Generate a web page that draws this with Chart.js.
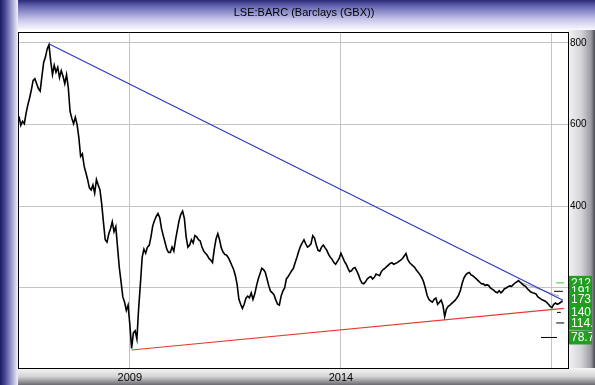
<!DOCTYPE html>
<html>
<head>
<meta charset="utf-8">
<script src="https://cdn.jsdelivr.net/npm/chart.js@4/dist/chart.umd.min.js"></script>
<style>
  html, body { margin: 0; padding: 0; background: #fff; overflow: hidden; }
  canvas { display: block; }
</style>
</head>
<body>
<canvas id="barc-grafica" width="595" height="385"></canvas>
<script>
// Barclays closing price (GBX), two readings per month
const p2006 = [620, 598, 608, 602, 628, 648, 665, 685, 708, 712, 700, 688, 682, 718, 752];
const p2007 = [765, 785, 795, 755, 722, 745, 728, 740, 715, 732, 718, 700, 722, 690, 632, 615, 602, 618, 600, 568, 522, 528, 498, 482];
const p2008 = [465, 445, 440, 452, 432, 465, 452, 440, 405, 360, 318, 312, 332, 345, 362, 338, 350, 300, 250, 215, 178, 165, 145, 158];
const p2009 = [110, 52, 90, 95, 75, 150, 210, 275, 295, 285, 300, 304, 325, 352, 365, 375, 382, 372, 345, 328, 312, 295, 287, 287];
const p2010 = [300, 290, 318, 342, 365, 380, 388, 370, 325, 300, 305, 318, 310, 328, 325, 318, 315, 300, 290, 285, 280, 272, 268, 262];
const p2011 = [295, 320, 333, 318, 298, 288, 282, 280, 274, 265, 255, 245, 230, 208, 172, 160, 150, 160, 175, 180, 176, 188, 172, 185];
const p2012 = [205, 222, 235, 248, 245, 238, 222, 205, 192, 188, 183, 170, 160, 158, 180, 192, 200, 222, 228, 235, 242, 248, 262, 275];
const p2013 = [290, 302, 310, 318, 308, 300, 303, 308, 328, 322, 305, 292, 290, 300, 305, 298, 292, 282, 275, 270, 262, 258, 265, 272];
const p2014 = [285, 275, 265, 258, 248, 240, 242, 248, 250, 242, 232, 220, 212, 210, 215, 222, 226, 228, 222, 226, 234, 232, 230, 240];
const p2015 = [245, 248, 252, 256, 260, 262, 258, 260, 262, 265, 268, 272, 278, 284, 270, 262, 258, 254, 250, 243, 238, 232, 225, 215];
const p2016 = [200, 182, 172, 168, 165, 172, 175, 160, 165, 170, 158, 130, 148, 155, 158, 162, 166, 170, 176, 183, 195, 212, 225, 232];
const p2017 = [236, 238, 232, 230, 226, 222, 218, 214, 210, 210, 206, 208, 206, 200, 197, 194, 190, 188, 193, 188, 192, 198, 200, 203];
const p2018 = [205, 204, 208, 212, 215, 218, 214, 210, 206, 204, 198, 194, 190, 188, 187, 185, 178, 175, 172, 170, 168, 165, 160, 155];
const p2019 = [152, 160, 163, 160, 162, 165, 168];

// trend lines (decimal year, price)
const resistanceDates = [2007.09, 2019.26];
const resistanceValues = [797, 170];
const supportDates = [2009.04, 2019.28];
const supportValues = [48, 150];
const channelDates = [2018.18, 2019.17];
const channelValues = [216, 180];

// target levels on the right
const targetLabels = ['212.4', '191.7', '173', '140.1', '114.3', '78.74'];
const targetValues = [212.4, 191.7, 173, 140.1, 114.3, 78.74];
const markLevels = [212.4, 191.7, 140.1, 114.3, 78.74];
const markStarts = [2019.10, 2019.05, 2019.12, 2019.10, 2018.74];
const markEnds = [2019.29, 2019.26, 2019.21, 2019.29, 2019.12];

const yearTicks = [2009, 2014, 2019];
const yearLabels = ['2009', '2014'];
const priceTicks = [200, 400, 600, 800];

(function() {
  const years = [
    [2006, p2006], [2007, p2007], [2008, p2008], [2009, p2009], [2010, p2010],
    [2011, p2011], [2012, p2012], [2013, p2013], [2014, p2014], [2015, p2015],
    [2016, p2016], [2017, p2017], [2018, p2018], [2019, p2019]
  ];
  const precio = [];
  years.forEach(([year, vals]) => {
    // 2006 series only covers the tail of the year
    const offset = year === 2006 ? 24 - vals.length : 0;
    vals.forEach((v, i) => precio.push({ x: year + (offset + i) / 24, y: v }));
  });

  const pair = (xs, ys) => xs.map((x, i) => ({ x: x, y: ys[i] }));

  const marks = markLevels.map((lvl, i) => ({
    data: [{ x: markStarts[i], y: lvl }, { x: markEnds[i], y: lvl }],
    borderColor: i === 0 ? '#33cc33' : '#000000',
    borderWidth: 1,
    pointRadius: 0
  }));

  const marco = {
    id: 'marco',
    beforeDraw(chart) {
      const c = chart.ctx;
      const W = chart.width, H = chart.height;
      c.save();
      c.fillStyle = '#ffffff';
      c.fillRect(0, 0, W, H);

      let g = c.createLinearGradient(568, 0, W, 0);
      g.addColorStop(0, '#f4f4f6');
      g.addColorStop(0.5, '#d2d2d8');
      g.addColorStop(0.85, '#9a9aa2');
      g.addColorStop(1, '#4a4a52');
      c.fillStyle = g;
      c.fillRect(568, 0, W - 568, H);

      g = c.createLinearGradient(0, 368, 0, H);
      g.addColorStop(0, '#f6f6f6');
      g.addColorStop(0.5, '#d4d4d6');
      g.addColorStop(1, '#6a6a70');
      c.fillStyle = g;
      c.fillRect(0, 368, W, H - 368);

      g = c.createLinearGradient(0, 0, 0, 30);
      g.addColorStop(0, '#2a2a74');
      g.addColorStop(0.2, '#6464b2');
      g.addColorStop(0.65, '#c6c6ea');
      g.addColorStop(1, '#fafaff');
      c.fillStyle = g;
      c.fillRect(0, 0, W, 30);

      g = c.createLinearGradient(0, 0, 18, 0);
      g.addColorStop(0, '#1a1a5e');
      g.addColorStop(0.3, '#4c4c9c');
      g.addColorStop(1, '#f2f2fa');
      c.fillStyle = g;
      c.fillRect(0, 0, 18, H);
      c.restore();
    },
    afterDraw(chart) {
      const c = chart.ctx;
      const a = chart.chartArea;
      const y = chart.scales.y;
      c.save();
      c.strokeStyle = '#000';
      c.lineWidth = 1;
      c.strokeRect(Math.round(a.left) + 0.5, Math.round(a.top) + 0.5,
        Math.round(a.right - a.left), Math.round(a.bottom - a.top));

      // green price tags
      c.beginPath();
      c.rect(a.right + 1, 0, 592 - a.right - 1, chart.height);
      c.clip();
      c.font = '12px "Liberation Sans", Arial, sans-serif';
      c.textBaseline = 'middle';
      targetValues.forEach((v, i) => {
        const py = y.getPixelForValue(v);
        c.fillStyle = '#1f9e1f';
        c.fillRect(a.right + 1, py - 7, 30, 14);
        c.fillStyle = '#ffffff';
        c.fillText(targetLabels[i], a.right + 3, py + 0.5);
      });
      c.restore();
    }
  };

  const ctx = document.querySelector('#barc-grafica');
  new Chart(ctx, {
    type: 'line',
    data: {
      datasets: [
        { data: precio, borderColor: '#000000', borderWidth: 1.6, pointRadius: 0, tension: 0 },
        { data: pair(resistanceDates, resistanceValues), borderColor: '#3434c8', borderWidth: 1.2, pointRadius: 0 },
        { data: pair(supportDates, supportValues), borderColor: '#e8392e', borderWidth: 1.2, pointRadius: 0 },
        { data: pair(channelDates, channelValues), borderColor: '#a8a8c0', borderWidth: 1, pointRadius: 0 }
      ].concat(marks)
    },
    options: {
      responsive: false,
      animation: false,
      devicePixelRatio: 1,
      layout: { padding: { left: 18, right: 5, top: 0, bottom: 0 } },
      plugins: {
        legend: { display: false },
        tooltip: { enabled: false },
        title: {
          display: true,
          text: 'LSE:BARC (Barclays (GBX))',
          color: '#000',
          font: { family: '"Liberation Sans", Arial, sans-serif', size: 11, weight: 'normal' },
          padding: { top: 6, bottom: 13 }
        }
      },
      scales: {
        x: {
          type: 'linear',
          position: 'bottom',
          min: 2006.35,
          max: 2019.38,
          afterBuildTicks(scale) { scale.ticks = yearTicks.map(v => ({ value: v })); },
          afterFit(scale) { scale.height = 17; },
          ticks: {
            color: '#000',
            padding: 3,
            maxRotation: 0,
            font: { family: '"Liberation Sans", Arial, sans-serif', size: 11 },
            callback: v => yearLabels.includes(String(v)) ? String(v) : ''
          },
          grid: { color: '#c4c4c4', drawTicks: false },
          border: { display: false }
        },
        y: {
          position: 'right',
          min: 4,
          max: 826,
          afterBuildTicks(scale) { scale.ticks = priceTicks.map(v => ({ value: v })); },
          afterFit(scale) { scale.width = 22; },
          ticks: {
            color: '#000',
            padding: 2,
            font: { family: '"Liberation Sans", Arial, sans-serif', size: 10 }
          },
          grid: { color: '#c4c4c4', drawTicks: false },
          border: { display: false }
        }
      }
    },
    plugins: [marco]
  });
})();
</script>
</body>
</html>
